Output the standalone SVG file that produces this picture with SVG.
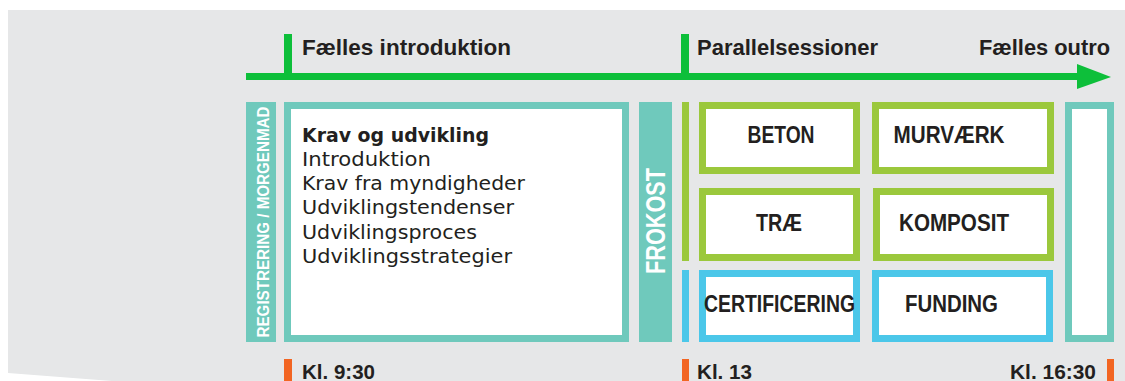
<svg xmlns="http://www.w3.org/2000/svg" width="1125" height="381" viewBox="0 0 1125 381">
<defs>
<style>
.h{font-family:"Liberation Sans",Arial,sans-serif;font-weight:bold;font-size:22px;fill:#231F20}
.t{font-family:"Liberation Sans",Arial,sans-serif;font-weight:bold;font-size:20px;fill:#231F20}
.b{font-family:"DejaVu Sans","Liberation Sans",sans-serif;font-size:20px;fill:#231F20}
.bb{font-family:"DejaVu Sans","Liberation Sans",sans-serif;font-size:20px;font-weight:bold;fill:#231F20}
.lab{font-family:"Liberation Sans",Arial,sans-serif;font-weight:bold;font-size:23px;fill:#231F20;text-anchor:middle}
.vt{font-family:"Liberation Sans",Arial,sans-serif;font-weight:bold;fill:#FFFFFF;text-anchor:middle}
.teal{fill:#FFFFFF;stroke:#6FC9BC;stroke-width:7}
.lime{fill:#FFFFFF;stroke:#9BC83C;stroke-width:7}
.blue{fill:#FFFFFF;stroke:#4BC7E9;stroke-width:7}
</style>
</defs>
<polygon points="8,10 1125,10 1125,381 112,381 8,373" fill="#E6E7E8"/>
<g id="connectors">
<line x1="246" y1="76.5" x2="1080" y2="76.5" stroke="#0DBF3A" stroke-width="7"/>
<polygon points="1077,64 1111,77 1077,89" fill="#0DBF3A"/>
<rect x="284" y="34" width="8" height="42" fill="#0DBF3A"/>
<rect x="681" y="34" width="8" height="42" fill="#0DBF3A"/>
</g>
<g id="timeline-labels">
<text class="h" x="302" y="55" textLength="209" lengthAdjust="spacingAndGlyphs">Fælles introduktion</text>
<text class="h" x="697" y="55" textLength="181" lengthAdjust="spacingAndGlyphs">Parallelsessioner</text>
<text class="h" x="979" y="55" textLength="131" lengthAdjust="spacingAndGlyphs">Fælles outro</text>
</g>
<g id="registrering">
<rect x="246" y="102" width="30" height="240" fill="#6FC9BC"/>
<text class="vt" transform="translate(268.5,222) rotate(-90)" font-size="17" textLength="231" lengthAdjust="spacingAndGlyphs">REGISTRERING / MORGENMAD</text>
</g>
<g id="krav">
<rect class="teal" x="287.5" y="105.5" width="338" height="233"/>
<text class="bb" x="302" y="142" textLength="187" lengthAdjust="spacingAndGlyphs">Krav og udvikling</text>
<text class="b" x="302" y="166" textLength="129" lengthAdjust="spacingAndGlyphs">Introduktion</text>
<text class="b" x="302" y="190" textLength="223" lengthAdjust="spacingAndGlyphs">Krav fra myndigheder</text>
<text class="b" x="302" y="214" textLength="212" lengthAdjust="spacingAndGlyphs">Udviklingstendenser</text>
<text class="b" x="302" y="238.5" textLength="175" lengthAdjust="spacingAndGlyphs">Udviklingsproces</text>
<text class="b" x="302" y="263" textLength="210" lengthAdjust="spacingAndGlyphs">Udviklingsstrategier</text>
</g>
<g id="frokost">
<rect x="639" y="102" width="33" height="240" fill="#6FC9BC"/>
<text class="vt" transform="translate(664.5,221) rotate(-90)" font-size="27" textLength="106" lengthAdjust="spacingAndGlyphs">FROKOST</text>
</g>
<g id="track-bars">
<rect x="682" y="102" width="7" height="159" fill="#9BC83C"/>
<rect x="682" y="270" width="7" height="72" fill="#4BC7E9"/>
</g>
<g id="beton">
<rect class="lime" x="702.5" y="105.5" width="154" height="65"/>
<text class="lab" x="781" y="143" textLength="67" lengthAdjust="spacingAndGlyphs">BETON</text>
</g>
<g id="murvaerk">
<rect class="lime" x="875.5" y="105.5" width="175" height="65"/>
<text class="lab" x="949" y="143" textLength="111" lengthAdjust="spacingAndGlyphs">MURVÆRK</text>
</g>
<g id="trae">
<rect class="lime" x="702.5" y="191.5" width="154" height="66"/>
<text class="lab" x="779" y="231" textLength="46" lengthAdjust="spacingAndGlyphs">TRÆ</text>
</g>
<g id="komposit">
<rect class="lime" x="876.5" y="191.5" width="174" height="66"/>
<text class="lab" x="954" y="231" textLength="110" lengthAdjust="spacingAndGlyphs">KOMPOSIT</text>
</g>
<g id="certificering">
<rect class="blue" x="702.5" y="273.5" width="154" height="65"/>
<text class="lab" x="779.5" y="312" textLength="151" lengthAdjust="spacingAndGlyphs">CERTIFICERING</text>
</g>
<g id="funding">
<rect class="blue" x="875.5" y="273.5" width="174" height="65"/>
<text class="lab" x="951.5" y="312" textLength="93" lengthAdjust="spacingAndGlyphs">FUNDING</text>
</g>
<g id="outro">
<rect class="teal" x="1068.5" y="105.5" width="42" height="233"/>
</g>
<g id="times">
<rect x="284" y="359" width="8" height="22" fill="#F26522"/>
<text class="t" x="302" y="379" textLength="73" lengthAdjust="spacingAndGlyphs">Kl. 9:30</text>
<rect x="682" y="359" width="7" height="22" fill="#F26522"/>
<text class="t" x="697" y="379" textLength="55" lengthAdjust="spacingAndGlyphs">Kl. 13</text>
<rect x="1107" y="359" width="7" height="22" fill="#F26522"/>
<text class="t" x="1010" y="379" textLength="86" lengthAdjust="spacingAndGlyphs">Kl. 16:30</text>
</g>
</svg>
